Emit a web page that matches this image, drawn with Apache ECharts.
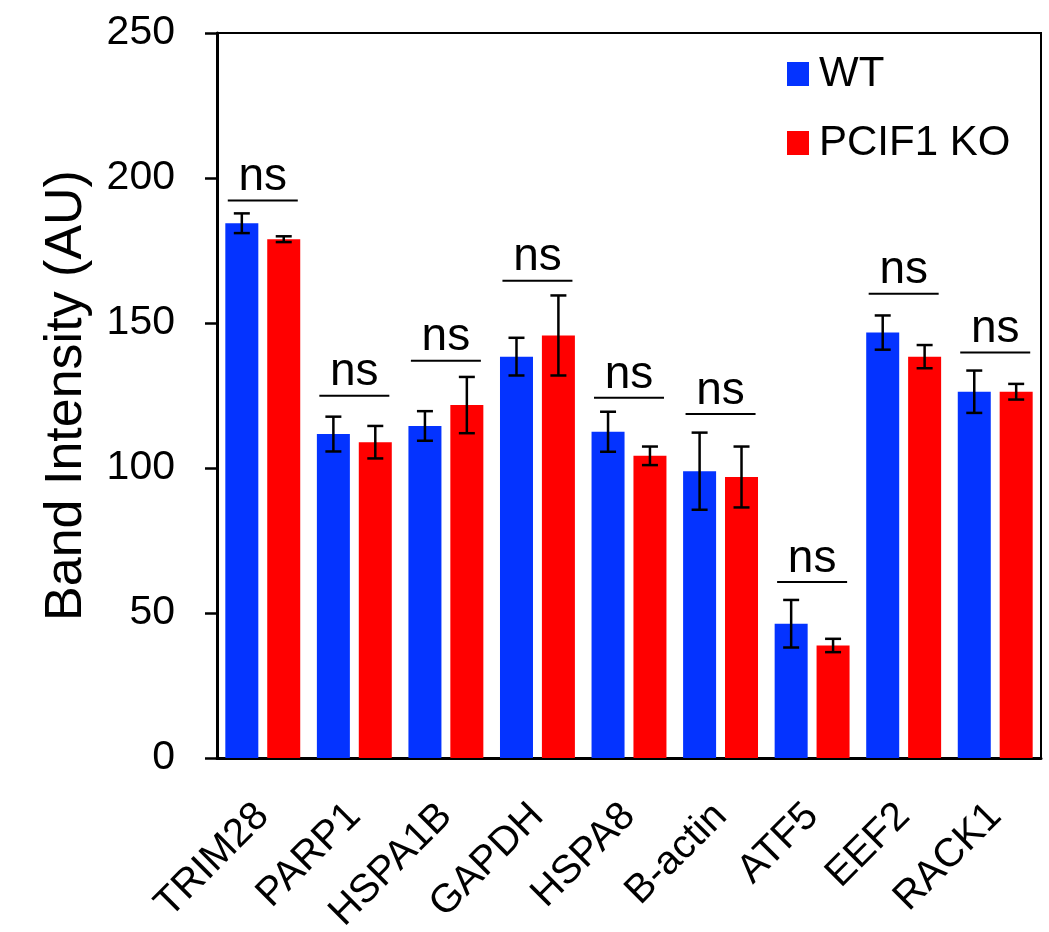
<!DOCTYPE html>
<html>
<head>
<meta charset="utf-8">
<script src="https://cdn.jsdelivr.net/npm/echarts@6/dist/echarts.min.js"></script>
<style>
html,body{margin:0;padding:0;background:#fff;}
#chart{width:1049px;height:932px;}
</style>
</head>
<body>
<div id="chart"></div>
<script>
const categories = ['TRIM28', 'PARP1', 'HSPA1B', 'GAPDH', 'HSPA8', 'B-actin', 'ATF5', 'EEF2', 'RACK1'];
const wtValues = [184.4, 111.7, 114.5, 138.4, 112.5, 98.9, 46.3, 146.7, 126.3];
const wtErrors = [3.4, 6.0, 5.1, 6.5, 6.9, 13.3, 8.2, 5.9, 7.3];
const koValues = [178.9, 108.9, 121.7, 145.7, 104.2, 96.9, 38.8, 138.4, 126.3];
const koErrors = [1.0, 5.6, 9.7, 13.8, 3.2, 10.5, 2.3, 4.0, 2.7];
const nsLevels = [192.2, 124.9, 137.0, 164.6, 124.2, 118.6, 60.7, 160.1, 139.8];
const nsLabels = ['ns', 'ns', 'ns', 'ns', 'ns', 'ns', 'ns', 'ns', 'ns'];
const seriesNames = ['WT', 'PCIF1 KO'];
const yTicks = [0, 50, 100, 150, 200, 250];

const FONT = '"Liberation Sans", Arial, Helvetica, sans-serif';
const BLUE = '#0433ff';
const RED = '#ff0000';
const BAR_W = 33;
const BAR_GAP = 0.27;
const OFFSET = (BAR_W + BAR_W * BAR_GAP) / 2;

function errorRenderer(sign) {
  return function (params, api) {
    const i = api.value(0);
    const m = api.value(1);
    const e = api.value(2);
    const c = api.coord([i, m]);
    const x = c[0] + sign * OFFSET;
    const yTop = api.coord([i, m + e])[1];
    const yBot = api.coord([i, m - e])[1];
    const cap = 8;
    const style = { stroke: '#000', lineWidth: 2.5 };
    return {
      type: 'group',
      children: [
        { type: 'line', shape: { x1: x, y1: yTop, x2: x, y2: yBot }, style: style },
        { type: 'line', shape: { x1: x - cap, y1: yTop, x2: x + cap, y2: yTop }, style: style },
        { type: 'line', shape: { x1: x - cap, y1: yBot, x2: x + cap, y2: yBot }, style: style }
      ]
    };
  };
}

function nsRenderer(params, api) {
  const i = api.value(0);
  const lvl = api.value(1);
  const c = api.coord([i, lvl]);
  const half = 35;
  return {
    type: 'group',
    children: [
      { type: 'line', shape: { x1: c[0] - half, y1: c[1], x2: c[0] + half, y2: c[1] },
        style: { stroke: '#000', lineWidth: 2 } },
      { type: 'text', x: c[0], y: c[1] - 23,
        style: { text: nsLabels[params.dataIndex], fill: '#000', font: '46px ' + FONT,
                 textAlign: 'center', textVerticalAlign: 'middle' } }
    ]
  };
}

const chart = echarts.init(document.getElementById('chart'), null, { renderer: 'canvas' });
chart.setOption({
  animation: false,
  backgroundColor: '#fff',
  textStyle: { fontFamily: FONT },
  grid: { left: 217, right: 8, top: 33, bottom: 174, show: true, borderColor: '#000', borderWidth: 2,
          backgroundColor: 'transparent', containLabel: false, outerBoundsMode: 'none' },
  legend: {
    data: seriesNames,
    orient: 'vertical',
    left: 787,
    top: 53,
    padding: 0,
    itemWidth: 22,
    itemHeight: 24,
    itemGap: 27,
    icon: 'rect',
    textStyle: { fontSize: 42, fontFamily: FONT, color: '#000', lineHeight: 42, padding: [0, 0, 0, 5] }
  },
  xAxis: {
    type: 'category',
    data: categories,
    axisLine: { lineStyle: { color: '#000', width: 3 } },
    axisTick: { show: false },
    axisLabel: { rotate: 45, fontSize: 40, color: '#000', fontFamily: FONT, margin: 52, interval: 0 }
  },
  yAxis: {
    type: 'value',
    min: 0,
    max: 250,
    interval: 50,
    name: 'Band Intensity (AU)',
    nameLocation: 'middle',
    nameGap: 124,
    nameTextStyle: { fontSize: 52, color: '#000', fontFamily: FONT },
    axisLine: { show: true, lineStyle: { color: '#000', width: 3 } },
    axisTick: { show: true, inside: false, length: 12, lineStyle: { color: '#000', width: 2.5 } },
    axisLabel: { fontSize: 41, color: '#000', margin: 42, fontFamily: FONT,
                 formatter: function (v) { return yTicks.indexOf(v) >= 0 ? String(v) : ''; } },
    splitLine: { show: false }
  },
  series: [
    { name: seriesNames[0], type: 'bar', data: wtValues, barWidth: BAR_W, barGap: (BAR_GAP * 100) + '%',
      itemStyle: { color: BLUE }, z: 2 },
    { name: seriesNames[1], type: 'bar', data: koValues, barWidth: BAR_W, barGap: (BAR_GAP * 100) + '%',
      itemStyle: { color: RED }, z: 2 },
    { name: 'wtErr', type: 'custom', renderItem: errorRenderer(-1),
      data: wtValues.map(function (v, i) { return [i, v, wtErrors[i]]; }),
      encode: { x: 0, y: 1 }, z: 5, silent: true },
    { name: 'koErr', type: 'custom', renderItem: errorRenderer(1),
      data: koValues.map(function (v, i) { return [i, v, koErrors[i]]; }),
      encode: { x: 0, y: 1 }, z: 5, silent: true },
    { name: 'ns', type: 'custom', renderItem: nsRenderer,
      data: nsLevels.map(function (v, i) { return [i, v]; }),
      encode: { x: 0, y: 1 }, z: 5, silent: true }
  ]
});
</script>
</body>
</html>
